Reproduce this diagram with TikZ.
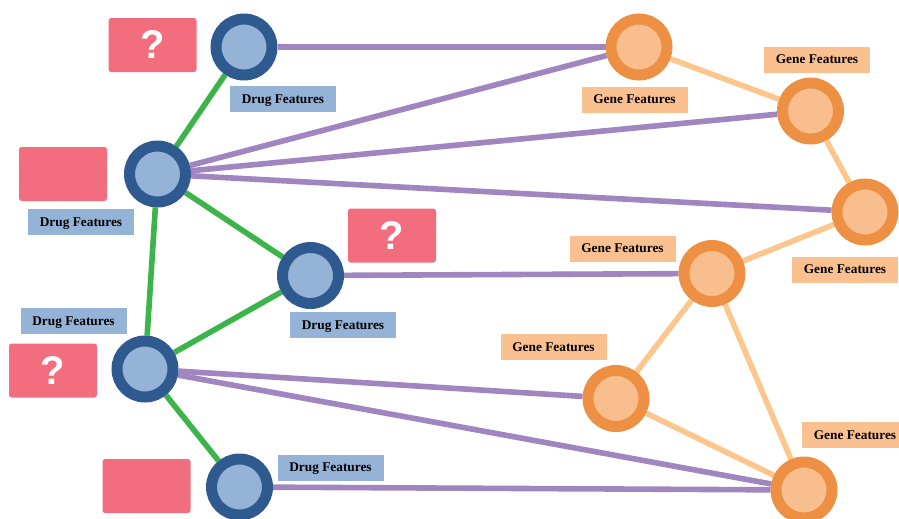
\documentclass[tikz,border=0pt]{standalone}
\usepackage{fontspec}
\setmainfont{Liberation Serif}
\newfontfamily\qfont{Liberation Sans}
\usetikzlibrary{backgrounds}
\definecolor{dblue}{HTML}{2F5A8F}
\definecolor{lblue}{HTML}{95B3D7}
\definecolor{dorange}{HTML}{EE9044}
\definecolor{lorange}{HTML}{F9BE8E}
\definecolor{labor}{HTML}{FAC090}
\definecolor{qred}{HTML}{F26E7E}
\definecolor{egreen}{HTML}{3BB54A}
\definecolor{epurple}{HTML}{A085C0}
\definecolor{eorange}{HTML}{FCC68C}
\begin{document}
\begin{tikzpicture}[x=0.75pt,y=-0.75pt,
  drug/.style={circle,draw=dblue,fill=lblue,line width=8.25pt,minimum size=42pt,inner sep=0pt},
  gene/.style={circle,draw=dorange,fill=lorange,line width=8.25pt,minimum size=42pt,inner sep=0pt},
  dlab/.style={fill=lblue,minimum width=79.5pt,minimum height=19.5pt,inner sep=0pt,text height=0.66em,text depth=0pt,font=\fontsize{10}{12}\selectfont\bfseries},
  glab/.style={fill=labor,minimum width=79.5pt,minimum height=19.5pt,inner sep=0pt,text height=0.66em,text depth=0pt,font=\fontsize{10}{12}\selectfont\bfseries},
  qbox/.style={fill=qred,rounded corners=2pt,minimum width=66pt,minimum height=40.5pt,inner sep=0pt,text=white,font=\qfont\bfseries\fontsize{30}{30}\selectfont},
  pedge/.style={draw=epurple,line width=4.2pt},
  gedge/.style={draw=egreen,line width=4.2pt},
  oedge/.style={draw=eorange,line width=4.2pt}
]
\useasboundingbox (0,0) rectangle (899,518);

% drug nodes
\node[drug] (d1) at (244,47) {};
\node[drug] (d2) at (157.5,174) {};
\node[drug] (d3) at (310.5,275.5) {};
\node[drug] (d4) at (145,369) {};
\node[drug] (d5) at (239.5,487) {};

% gene nodes
\node[gene] (g1) at (639,47) {};
\node[gene] (g2) at (810.5,111) {};
\node[gene] (g3) at (865,212) {};
\node[gene] (g4) at (712,273.5) {};
\node[gene] (g5) at (616,398.5) {};
\node[gene] (g6) at (804,490) {};

\begin{pgfonlayer}{background}
  \draw[gedge] (d1) -- (d2);
  \draw[gedge] (d2) -- (d3);
  \draw[gedge] (d2) -- (d4);
  \draw[gedge] (d4) -- (d3);
  \draw[gedge] (d4) -- (d5);
  \draw[pedge] (d1) -- (g1);
  \draw[pedge] (d2) -- (g1);
  \draw[pedge] (d2) -- (g2);
  \draw[pedge] (d2) -- (g3);
  \draw[pedge] (d3) -- (g4);
  \draw[pedge] (d4) -- (g5);
  \draw[pedge] (d4) -- (g6);
  \draw[pedge] (d5) -- (g6);
  \draw[oedge] (g1) -- (g2);
  \draw[oedge] (g2) -- (g3);
  \draw[oedge] (g3) -- (g4);
  \draw[oedge] (g4) -- (g5);
  \draw[oedge] (g4) -- (g6);
  \draw[oedge] (g5) -- (g6);
\end{pgfonlayer}

% labels
\node[dlab] (ld1) at (283,99) {Drug Features};
\node[dlab] (ld2) at (81,222) {Drug Features};
\node[dlab] (ld3) at (343,325) {Drug Features};
\node[dlab] (ld4) at (73.5,321) {Drug Features};
\node[dlab] (ld5) at (330.5,467.5) {Drug Features};

\node[glab] (lg1) at (634.5,99.5) {Gene Features};
\node[glab] (lg2) at (817,59.5) {Gene Features};
\node[glab] (lg3) at (845,269.5) {Gene Features};
\node[glab] (lg4) at (622.5,248.5) {Gene Features};
\node[glab] (lg5) at (553.5,347) {Gene Features};
\node[glab] (lg6) at (855,435) {Gene Features};

% red boxes
\node[qbox] (q1) at (152.5,45) {?};
\node[qbox] (q2) at (63,174) {};
\node[qbox] (q3) at (392,235.5) {?};
\node[qbox] (q4) at (53,370.5) {?};
\node[qbox] (q5) at (146.5,486) {};
\end{tikzpicture}
\end{document}
